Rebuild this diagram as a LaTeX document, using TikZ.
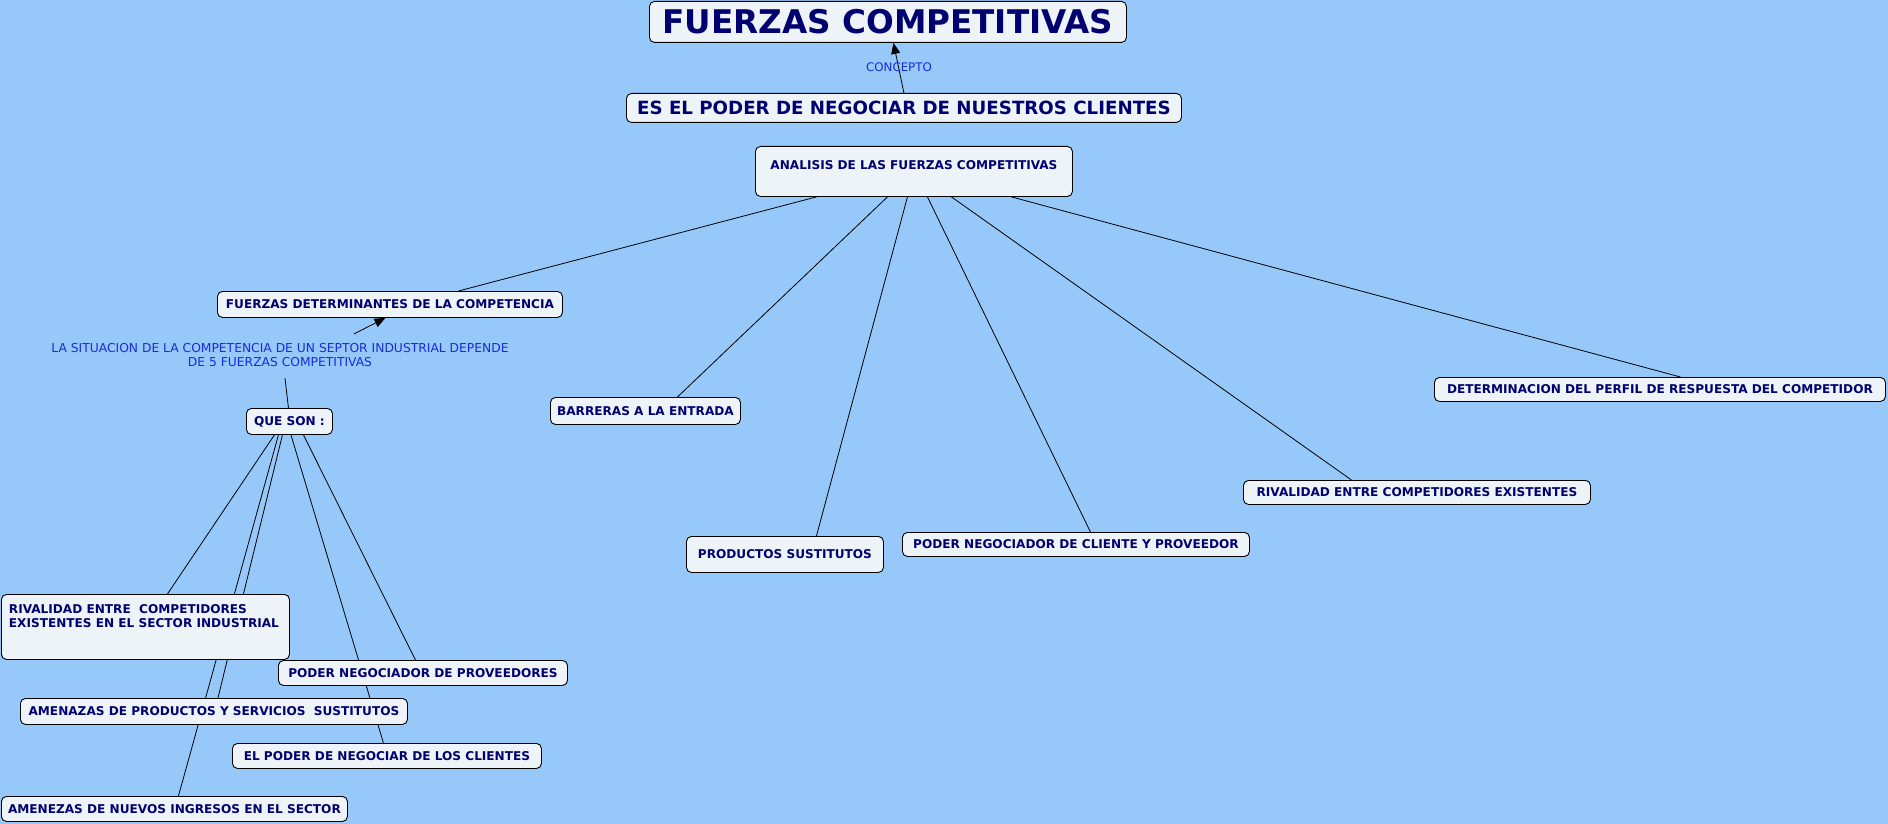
\documentclass[tikz,border=0pt]{standalone}
\usepackage{xcolor}
\usepackage{fontspec}
\setmainfont{DejaVu Sans}
\usepackage{tikz}
\usetikzlibrary{positioning,arrows.meta,backgrounds,calc}

\definecolor{mapbg}{RGB}{150,200,250}
\definecolor{boxfill}{RGB}{238,243,247}
\definecolor{navytxt}{RGB}{0,0,112}
\definecolor{linkblue}{RGB}{24,44,222}

\tikzset{
  concept/.style={draw, rounded corners=5pt, fill=boxfill, text=navytxt, line width=0.9pt,
    font=\bfseries\fontsize{12.1}{14.5}\selectfont, inner xsep=6pt, inner ysep=3pt,
    anchor=north west},
  linklabel/.style={text=linkblue, font=\fontsize{11.8}{14}\selectfont, inner sep=1pt, align=center},
  link/.style={draw, line width=0.8pt},
  linkarrow/.style={link, -{Triangle[length=11pt,width=9pt]}},
}

\begin{document}
\begin{tikzpicture}[x=1pt,y=-1pt]
\useasboundingbox (0,0) rectangle (1888,824);

% top of the map
\node[concept, minimum width=477, minimum height=41,
      font=\bfseries\fontsize{32.6}{36}\selectfont] (title) at (649,1) {FUERZAS COMPETITIVAS};
\node[concept, minimum width=555, minimum height=29,
      font=\bfseries\fontsize{18.2}{21}\selectfont] (poder) at (626,93) {ES EL PODER DE NEGOCIAR DE NUESTROS CLIENTES};
\node[concept, minimum width=317, text height=19.5pt, text depth=22.5pt, inner ysep=4pt] (analisis) at (755,146)
  {ANALISIS DE LAS FUERZAS COMPETITIVAS};

% left branch
\node[concept, minimum width=345, minimum height=26] (fdet) at (217,291) {FUERZAS DETERMINANTES DE LA COMPETENCIA};
\node[linklabel, font=\fontsize{12.3}{14.5}\selectfont] (sit) at (280,355)
  {LA SITUACION DE LA COMPETENCIA DE UN SEPTOR INDUSTRIAL DEPENDE\\DE 5 FUERZAS COMPETITIVAS};
\node[concept, minimum width=86, minimum height=26] (queson) at (246,408) {QUE SON :};

\node[concept, minimum width=288, minimum height=65, text width=273pt, inner xsep=7pt, align=flush left,
      text depth=36pt] (rival) at (1,594) {RIVALIDAD ENTRE\ \ COMPETIDORES\\EXISTENTES EN EL SECTOR INDUSTRIAL};
\node[concept, minimum width=289, minimum height=25] (provee) at (278,660) {PODER NEGOCIADOR DE PROVEEDORES};
\node[concept, minimum width=387, minimum height=26] (amenprod) at (20,698) {AMENAZAS DE PRODUCTOS Y SERVICIOS\ \ SUSTITUTOS};
\node[concept, minimum width=309, minimum height=25] (clientes) at (232,743) {EL PODER DE NEGOCIAR DE LOS CLIENTES};
\node[concept, minimum width=346, minimum height=25] (nuevos) at (1,796) {AMENEZAS DE NUEVOS INGRESOS EN EL SECTOR};

% right branch
\node[concept, minimum width=190, minimum height=27] (barreras) at (550,397) {BARRERAS A LA ENTRADA};
\node[concept, minimum width=197, minimum height=36] (prodsust) at (686,536) {PRODUCTOS SUSTITUTOS};
\node[concept, minimum width=347, minimum height=24] (clprov) at (902,532) {PODER NEGOCIADOR DE CLIENTE Y PROVEEDOR};
\node[concept, minimum width=347, minimum height=24] (rivalex) at (1243,480) {RIVALIDAD ENTRE COMPETIDORES EXISTENTES};
\node[concept, minimum width=451, minimum height=24] (perfil) at (1434,377) {DETERMINACION DEL PERFIL DE RESPUESTA DEL COMPETIDOR};

\begin{scope}[on background layer]
\fill[mapbg] (0,0) rectangle (1888,824);

\draw[linkarrow] (poder.north) -- ([xshift=5.5pt]title.south);
\draw[linkarrow] ([xshift=74pt,yshift=8pt]sit.north) -- ([xshift=-4.5pt]fdet.south);
\draw[link] ([xshift=5pt,yshift=-10pt]sit.south) -- ([xshift=-1pt]queson.north);

\draw[link] ([xshift=-97.5pt]analisis.south) -- ([xshift=68.5pt]fdet.north);
\draw[link] ([xshift=-26.5pt]analisis.south) -- ([xshift=32pt]barreras.north);
\draw[link] ([xshift=-6.5pt]analisis.south) -- ([xshift=31.5pt]prodsust.north);
\draw[link] ([xshift=13.5pt]analisis.south) -- ([xshift=14.5pt]clprov.north);
\draw[link] ([xshift=37.5pt]analisis.south) -- ([xshift=-65.5pt]rivalex.north);
\draw[link] ([xshift=97.5pt]analisis.south) -- ([xshift=20.5pt]perfil.north);

\draw[link] ([xshift=-15pt]queson.south) -- ([xshift=22pt]rival.north);
\draw[link] ([xshift=-11pt]queson.south) -- ([xshift=4pt]nuevos.north);
\draw[link] ([xshift=-7pt]queson.south) -- ([xshift=4pt]amenprod.north);
\draw[link] ([xshift=1.5pt]queson.south) -- ([xshift=-3.5pt]clientes.north);
\draw[link] ([xshift=14pt]queson.south) -- ([xshift=-7.5pt]provee.north);
\end{scope}

\node[linklabel] (concepto) at (899,67) {CONCEPTO};
\end{tikzpicture}
\end{document}
